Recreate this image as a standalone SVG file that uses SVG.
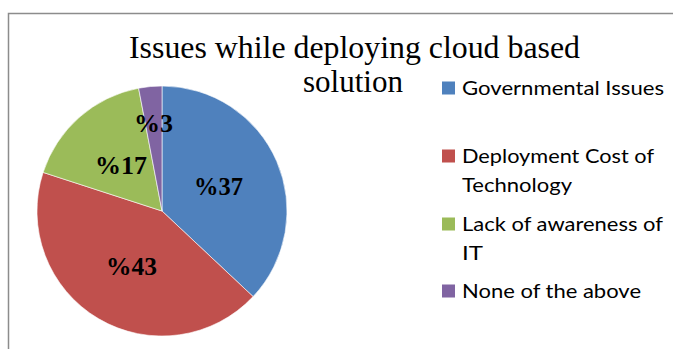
<svg xmlns="http://www.w3.org/2000/svg" width="673" height="349" viewBox="0 0 673 349">
<style>
.title{font-family:"Liberation Serif","Times New Roman",serif;font-size:32px;fill:#000;}
.pct{font-family:"Liberation Serif","Times New Roman",serif;font-size:26px;font-weight:bold;fill:#000;}
.leg{font-family:Lato,"Open Sans","Liberation Sans",sans-serif;font-size:20px;fill:#000;}
.slice{stroke:#ffffff;stroke-width:0.6;}
</style>
<rect x="0" y="0" width="673" height="349" fill="#ffffff"/>
<path d="M8.5,349 L8.5,13.5 L673,13.5" fill="none" stroke="#8c8c8c" stroke-width="1.5"/>
<g id="title">
<text class="title" x="354.5" y="58" text-anchor="middle" textLength="451" lengthAdjust="spacingAndGlyphs">Issues while deploying cloud based</text>
<text class="title" x="353" y="92" text-anchor="middle" textLength="100" lengthAdjust="spacingAndGlyphs">solution</text>
</g>
<g id="pie">
<g id="slice-governmental"><path class="slice" fill="#4F81BD" d="M162,211 L162,86 A125,125 0 0 1 253.1,296.6 Z"/></g>
<g id="slice-deployment"><path class="slice" fill="#C0504D" d="M162,211 L253.1,296.6 A125,125 0 0 1 43.1,172.4 Z"/></g>
<g id="slice-awareness"><path class="slice" fill="#9BBB59" d="M162,211 L43.1,172.4 A125,125 0 0 1 138.6,88.2 Z"/></g>
<g id="slice-none"><path class="slice" fill="#8064A2" d="M162,211 L138.6,88.2 A125,125 0 0 1 162,86 Z"/></g>
</g>
<g id="labels">
<text class="pct" x="194" y="195" textLength="49" lengthAdjust="spacingAndGlyphs">%37</text>
<text class="pct" x="106" y="275" textLength="51" lengthAdjust="spacingAndGlyphs">%43</text>
<text class="pct" x="95" y="174" textLength="52" lengthAdjust="spacingAndGlyphs">%17</text>
<text class="pct" x="134" y="132" textLength="39" lengthAdjust="spacingAndGlyphs">%3</text>
</g>
<g id="legend">
<g id="legend-governmental">
<rect x="442" y="81.5" width="13" height="13" fill="#4F81BD"/>
<text class="leg" x="462" y="95" textLength="202" lengthAdjust="spacingAndGlyphs">Governmental Issues</text>
</g>
<g id="legend-deployment">
<rect x="442" y="149.5" width="13" height="13" fill="#C0504D"/>
<text class="leg" x="462" y="163" textLength="192" lengthAdjust="spacingAndGlyphs">Deployment Cost of</text>
<text class="leg" x="462" y="192" textLength="110" lengthAdjust="spacingAndGlyphs">Technology</text>
</g>
<g id="legend-awareness">
<rect x="442" y="217.5" width="13" height="13" fill="#9BBB59"/>
<text class="leg" x="462" y="231" textLength="201" lengthAdjust="spacingAndGlyphs">Lack of awareness of</text>
<text class="leg" x="462" y="260" textLength="21" lengthAdjust="spacingAndGlyphs">IT</text>
</g>
<g id="legend-none">
<rect x="442" y="284.5" width="13" height="13" fill="#8064A2"/>
<text class="leg" x="462" y="298" textLength="179" lengthAdjust="spacingAndGlyphs">None of the above</text>
</g>
</g>
</svg>
